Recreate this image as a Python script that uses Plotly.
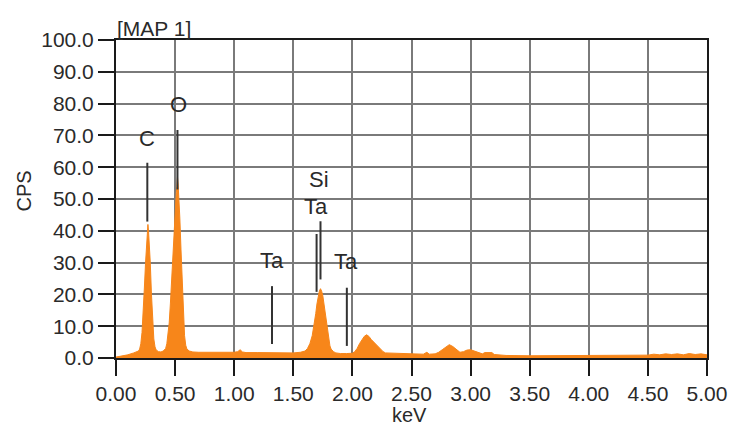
import plotly.graph_objects as go

# ---------------- data ----------------
energy_kev = [
    0.00, 0.05, 0.10, 0.15, 0.18, 0.19, 0.20, 0.21, 0.22, 0.23, 0.24, 0.25, 0.26, 0.265, 0.27, 0.275,
    0.28, 0.29, 0.30, 0.31, 0.32, 0.33, 0.34, 0.36, 0.38, 0.40, 0.42, 0.43, 0.44, 0.45, 0.46, 0.47,
    0.48, 0.49, 0.50, 0.51, 0.515, 0.52, 0.525, 0.53, 0.54, 0.55, 0.56, 0.57, 0.58, 0.59, 0.60, 0.62,
    0.65, 0.70, 0.80, 0.90, 1.00, 1.03, 1.05, 1.07, 1.10, 1.20, 1.30, 1.40, 1.50, 1.56, 1.60, 1.62,
    1.64, 1.66, 1.68, 1.69, 1.70, 1.71, 1.72, 1.73, 1.74, 1.75, 1.76, 1.77, 1.78, 1.79, 1.80, 1.81,
    1.82, 1.84, 1.86, 1.90, 1.95, 2.00, 2.02, 2.04, 2.06, 2.08, 2.10, 2.12, 2.14, 2.16, 2.18, 2.20,
    2.22, 2.24, 2.26, 2.28, 2.35, 2.45, 2.50, 2.55, 2.60, 2.63, 2.65, 2.70, 2.73, 2.76, 2.79, 2.82,
    2.85, 2.88, 2.91, 2.94, 2.97, 3.00, 3.03, 3.06, 3.10, 3.12, 3.18, 3.20, 3.30, 3.50, 3.80, 4.10,
    4.40, 4.50, 4.55, 4.60, 4.65, 4.70, 4.75, 4.80, 4.85, 4.90, 4.95, 5.00,
]
cps = [
    0.3, 0.6, 1.0, 1.6, 2.0, 2.2, 2.8, 4.5, 8.0, 14.0, 22.0, 30.0, 36.0, 38.0, 42.0, 40.0,
    37.0, 30.0, 20.0, 11.0, 6.0, 3.5, 2.5, 2.0, 1.9, 2.2, 3.0, 4.5, 7.0, 11.0, 17.0, 25.0,
    33.0, 41.0, 47.0, 52.0, 54.0, 57.0, 55.0, 52.0, 44.0, 34.0, 23.0, 13.0, 7.0, 4.0, 2.8, 2.2,
    1.9, 1.8, 1.8, 1.7, 1.8, 2.0, 2.6, 1.9, 1.7, 1.7, 1.6, 1.6, 1.6, 1.8, 2.2, 3.0,
    4.5, 7.0, 11.0, 14.0, 17.0, 19.5, 21.0, 21.8, 21.0, 19.5, 17.0, 14.0, 11.0, 8.0, 5.5, 3.8,
    2.8, 2.0, 1.6, 1.4, 1.4, 1.5, 2.0, 3.0, 4.5, 5.8, 6.8, 7.3, 6.8, 5.8, 5.0, 4.3,
    3.6, 2.8, 2.0, 1.6, 1.5, 1.5, 1.3, 1.2, 1.2, 1.8, 1.2, 1.3, 1.8, 2.6, 3.5, 4.2,
    3.6, 2.6, 1.8, 2.0, 2.5, 2.6, 2.2, 1.6, 1.3, 1.7, 1.7, 1.1, 0.8, 0.7, 0.7, 0.7,
    0.7, 0.9, 1.2, 1.0, 1.3, 1.1, 1.3, 1.0, 1.4, 1.1, 1.3, 1.0,
]

# peak identification markers
marker_labels = ["C", "O", "Ta", "Si", "Ta", "Ta"]
marker_kev = [0.265, 0.52, 1.697, 1.73, 1.32, 1.953]
marker_low = [42.9, 53.0, 20.8, 24.7, 4.4, 3.8]
marker_high = [61.4, 71.7, 39.0, 43.0, 22.6, 22.1]

# label text positions
label_text = ["C", "O", "Si", "Ta", "Ta", "Ta"]
label_kev = [0.263, 0.529, 1.717, 1.692, 1.319, 1.945]
label_cps = [68.9, 79.6, 56.1, 47.6, 30.8, 30.3]

x_ticks = [0.0, 0.5, 1.0, 1.5, 2.0, 2.5, 3.0, 3.5, 4.0, 4.5, 5.0]
y_ticks = [0, 10, 20, 30, 40, 50, 60, 70, 80, 90, 100]

FONT = "Liberation Sans, Arial, sans-serif"
TXT = "#2a2a2a"
ORANGE = "#F7861A"

fig = go.Figure()
fig.add_trace(go.Scatter(
    x=energy_kev, y=cps, mode="lines", fill="tozeroy",
    line=dict(color=ORANGE, width=1), fillcolor=ORANGE,
    hoverinfo="x+y", showlegend=False,
))

lx, ly = [], []
for xk, y0, y1 in zip(marker_kev, marker_low, marker_high):
    lx += [xk, xk, None]
    ly += [y0, y1, None]
fig.add_trace(go.Scatter(
    x=lx, y=ly, mode="lines", line=dict(color="#333333", width=2),
    hoverinfo="skip", showlegend=False,
))

for t, xk, yv in zip(label_text, label_kev, label_cps):
    fig.add_annotation(x=xk, y=yv, text=t, showarrow=False,
                       font=dict(family=FONT, size=22, color=TXT),
                       xanchor="center", yanchor="middle")

fig.add_annotation(xref="paper", yref="paper", x=-0.002, y=0.995, text="[MAP 1]",
                   showarrow=False, xanchor="left", yanchor="bottom",
                   font=dict(family=FONT, size=21, color=TXT))
fig.add_annotation(xref="paper", yref="paper", x=-0.155, y=0.525, text="CPS",
                   showarrow=False, textangle=-90, xanchor="center", yanchor="middle",
                   font=dict(family=FONT, size=20, color=TXT))
fig.add_annotation(xref="paper", yref="paper", x=0.496, y=-0.180, text="keV",
                   showarrow=False, xanchor="center", yanchor="middle",
                   font=dict(family=FONT, size=20, color=TXT))

axis_common = dict(
    showgrid=True, gridcolor="#7a7a7a", gridwidth=1.5,
    showline=True, linecolor="#1a1a1a", linewidth=2, mirror=True,
    ticks="outside", ticklen=16, tickcolor="#1a1a1a", tickwidth=2,
    tickfont=dict(family=FONT, size=21, color=TXT),
    zeroline=False, fixedrange=True,
)
fig.update_xaxes(range=[0, 5], tickvals=x_ticks,
                 ticktext=[f"{v:.2f}" for v in x_ticks], **axis_common)
fig.update_yaxes(range=[0, 100], tickvals=y_ticks,
                 ticktext=[f"{v:.1f}" for v in y_ticks], **axis_common)

fig.update_layout(
    width=739, height=428,
    margin=dict(l=116, r=24, t=40, b=70),
    paper_bgcolor="white", plot_bgcolor="white",
    showlegend=False,
)

# remove the default 8px page margin so the figure fills the 739x428 window exactly
fig.write_html("out.html",
               config={"displayModeBar": False},
               post_script="document.body.style.margin='0px';document.body.style.overflow='hidden';")
